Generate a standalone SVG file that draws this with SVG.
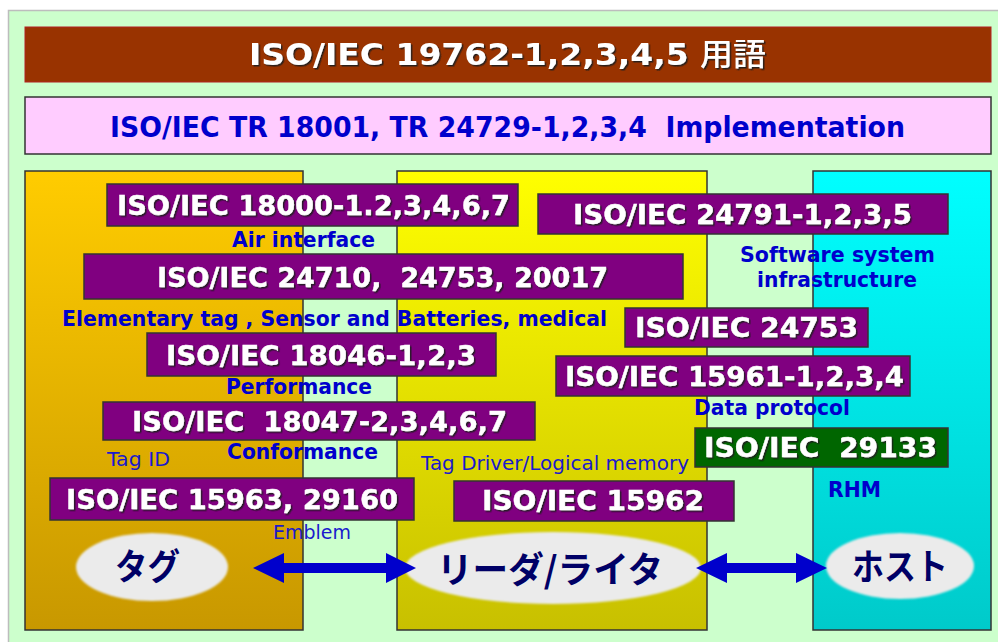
<svg xmlns="http://www.w3.org/2000/svg" width="998" height="642" viewBox="0 0 998 642">
<defs>
<linearGradient id="gOr" x1="0" y1="0" x2="0" y2="1"><stop offset="0" stop-color="#FFCC00"/><stop offset="1" stop-color="#C89800"/></linearGradient>
<linearGradient id="gYe" x1="0" y1="0" x2="0" y2="1"><stop offset="0" stop-color="#FFFF00"/><stop offset="1" stop-color="#C8C000"/></linearGradient>
<linearGradient id="gCy" x1="0" y1="0" x2="0" y2="1"><stop offset="0" stop-color="#00FFFF"/><stop offset="1" stop-color="#00CACA"/></linearGradient>
<filter id="sh" x="-5%" y="-20%" width="110%" height="150%"><feDropShadow dx="1.5" dy="1.5" stdDeviation="0.7" flood-color="#1a1a1a" flood-opacity="0.9"/></filter>
<filter id="soft" x="-10%" y="-10%" width="120%" height="120%"><feGaussianBlur stdDeviation="1.2"/></filter>
</defs>
<style>
.box{fill:#800080;stroke:#333;stroke-width:1.5}
.boxg{fill:#006600;stroke:#333;stroke-width:1.5}
.wt{font-family:"DejaVu Sans","Liberation Sans",sans-serif;font-weight:bold;font-size:27px;fill:#fff;stroke:#fff;stroke-width:0.4;filter:url(#sh)}
.bl{font-family:"DejaVu Sans","Liberation Sans",sans-serif;font-weight:bold;font-size:21px;fill:#0000CC}
.bn{font-family:"DejaVu Sans","Liberation Sans",sans-serif;font-size:19px;fill:#1a1acc}
.el{fill:#EBEBEB;filter:url(#soft)}
.jp{font-family:"Noto Sans CJK JP","DejaVu Sans",sans-serif;font-weight:bold;font-size:36px;fill:#000066}
.panel{stroke:#333;stroke-width:1.5}
.arr{fill:#0000CC}
</style>
<rect x="8.5" y="10.5" width="1000" height="640" fill="#CCFFCC" stroke="#BDBDBD" stroke-width="1.5"/>

<g id="banner">
<rect x="25" y="27" width="966" height="55" fill="#993300" stroke="#B22222" stroke-width="1"/>
<text x="249" y="65" font-family="DejaVu Sans,sans-serif" font-weight="bold" font-size="31" fill="#fff" filter="url(#sh)" textLength="517" lengthAdjust="spacingAndGlyphs">ISO/IEC 19762-1,2,3,4,5 <tspan font-family="Noto Sans CJK JP,sans-serif" font-weight="500">用語</tspan></text>
</g>
<g id="impl">
<rect x="25" y="97" width="966" height="57" fill="#FFCCFF" stroke="#333" stroke-width="1.5"/>
<text x="110" y="137" font-family="DejaVu Sans,sans-serif" font-weight="bold" font-size="28" fill="#0000CC" textLength="795" lengthAdjust="spacingAndGlyphs" xml:space="preserve">ISO/IEC TR 18001, TR 24729-1,2,3,4  Implementation</text>
</g>

<g id="panel-tag"><rect class="panel" x="25" y="171" width="278" height="459" fill="url(#gOr)"/></g>
<g id="panel-reader"><rect class="panel" x="397" y="171" width="310" height="459" fill="url(#gYe)"/></g>
<g id="panel-host"><rect class="panel" x="813" y="171" width="178" height="459" fill="url(#gCy)"/></g>

<g id="n18000">
<rect class="box" x="107" y="184" width="411" height="42"/>
<text class="wt" x="117" y="215" textLength="393" lengthAdjust="spacingAndGlyphs">ISO/IEC 18000-1.2,3,4,6,7</text>
</g>
<g id="l-air"><text class="bl" x="232" y="247" textLength="143" lengthAdjust="spacingAndGlyphs">Air interface</text></g>

<g id="n24791">
<rect class="box" x="538" y="194" width="410" height="40"/>
<text class="wt" x="573" y="224" textLength="339" lengthAdjust="spacingAndGlyphs">ISO/IEC 24791-1,2,3,5</text>
</g>
<g id="l-software">
<text class="bl" x="740" y="262" textLength="195" lengthAdjust="spacingAndGlyphs">Software system</text>
<text class="bl" x="757" y="287" textLength="160" lengthAdjust="spacingAndGlyphs">infrastructure</text>
</g>

<g id="n24710">
<rect class="box" x="84" y="254" width="599" height="45"/>
<text class="wt" x="157" y="287" textLength="451" lengthAdjust="spacingAndGlyphs" xml:space="preserve">ISO/IEC 24710,  24753, 20017</text>
</g>
<g id="l-elem"><text class="bl" x="62" y="326" textLength="545" lengthAdjust="spacingAndGlyphs">Elementary tag , Sensor and Batteries, medical</text></g>

<g id="n24753">
<rect class="box" x="625" y="308" width="243" height="39"/>
<text class="wt" x="635" y="337" textLength="223" lengthAdjust="spacingAndGlyphs">ISO/IEC 24753</text>
</g>

<g id="n18046">
<rect class="box" x="147" y="333" width="349" height="43"/>
<text class="wt" x="166" y="365" textLength="310" lengthAdjust="spacingAndGlyphs">ISO/IEC 18046-1,2,3</text>
</g>
<g id="l-perf"><text class="bl" x="226" y="394" textLength="146" lengthAdjust="spacingAndGlyphs">Performance</text></g>

<g id="n15961">
<rect class="box" x="556" y="356" width="354" height="40"/>
<text class="wt" x="565" y="386" textLength="339" lengthAdjust="spacingAndGlyphs">ISO/IEC 15961-1,2,3,4</text>
</g>
<g id="l-data"><text class="bl" x="694" y="415" textLength="156" lengthAdjust="spacingAndGlyphs">Data protocol</text></g>

<g id="n18047">
<rect class="box" x="103" y="402" width="432" height="38"/>
<text class="wt" x="132" y="431" textLength="375" lengthAdjust="spacingAndGlyphs" xml:space="preserve">ISO/IEC  18047-2,3,4,6,7</text>
</g>
<g id="l-conf"><text class="bl" x="227" y="459" textLength="151" lengthAdjust="spacingAndGlyphs">Conformance</text></g>
<g id="l-tagid"><text class="bn" x="107" y="466" textLength="63" lengthAdjust="spacingAndGlyphs">Tag ID</text></g>

<g id="n29133">
<rect class="boxg" x="695" y="428" width="253" height="39"/>
<text class="wt" x="704" y="457" textLength="233" lengthAdjust="spacingAndGlyphs" xml:space="preserve">ISO/IEC  29133</text>
</g>
<g id="l-driver"><text class="bn" x="421" y="470" textLength="268" lengthAdjust="spacingAndGlyphs">Tag Driver/Logical memory</text></g>
<g id="l-rhm"><text class="bl" x="828" y="497" textLength="53" lengthAdjust="spacingAndGlyphs">RHM</text></g>

<g id="n15963">
<rect class="box" x="50" y="478" width="364" height="42"/>
<text class="wt" x="66" y="509" textLength="332" lengthAdjust="spacingAndGlyphs">ISO/IEC 15963, 29160</text>
</g>
<g id="n15962">
<rect class="box" x="454" y="481" width="280" height="40"/>
<text class="wt" x="482" y="510" textLength="222" lengthAdjust="spacingAndGlyphs">ISO/IEC 15962</text>
</g>
<g id="l-emblem"><text class="bn" x="273" y="539" textLength="78" lengthAdjust="spacingAndGlyphs">Emblem</text></g>

<g id="tag">
<ellipse class="el" cx="152" cy="567" rx="76" ry="34"/>
<text class="jp" x="115" y="580" textLength="65" lengthAdjust="spacingAndGlyphs">タグ</text>
</g>
<g id="reader">
<ellipse class="el" cx="553" cy="568" rx="148" ry="36"/>
<text class="jp" x="437" y="583" textLength="226" lengthAdjust="spacingAndGlyphs">リーダ/ライタ</text>
</g>
<g id="host">
<ellipse class="el" cx="900" cy="566" rx="74" ry="33"/>
<text class="jp" x="852" y="580" textLength="96" lengthAdjust="spacingAndGlyphs">ホスト</text>
</g>

<g id="connectors">
<polygon class="arr" points="253,568 284,553 284,563 386,563 386,553 416,568 386,583 386,573 284,573 284,583"/>
<polygon class="arr" points="696,568 727,553 727,563 796,563 796,553 827,568 796,583 796,573 727,573 727,583"/>
</g>
</svg>
